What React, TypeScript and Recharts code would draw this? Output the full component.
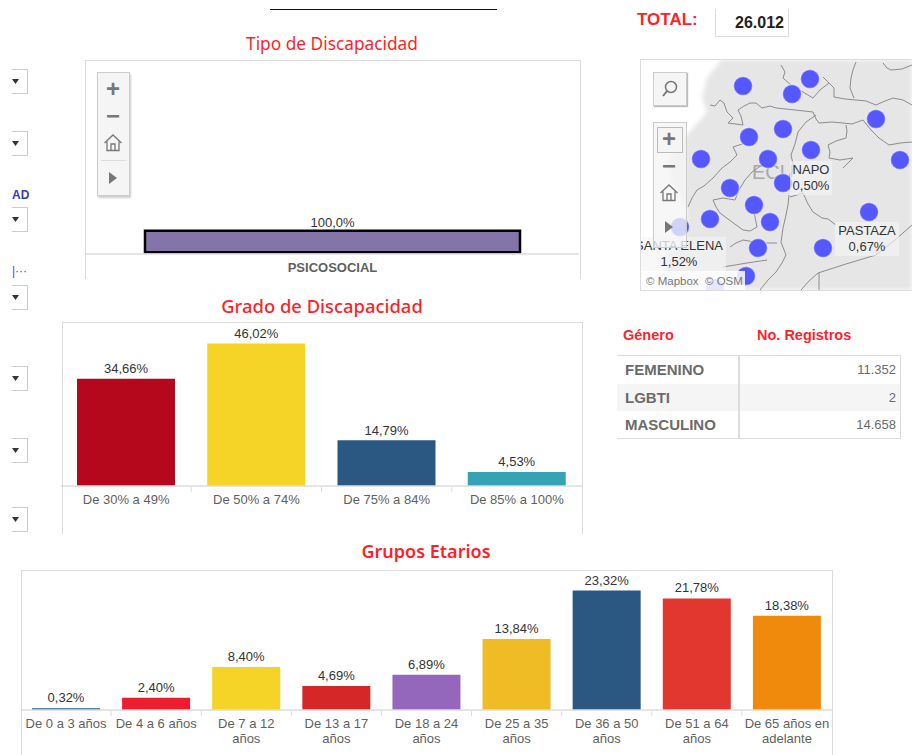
import React from "react";
import {
  Bar,
  BarChart,
  Cell,
  LabelList,
  Scatter,
  ScatterChart,
  XAxis,
  YAxis,
} from "recharts";

const tipoLabels = ["PSICOSOCIAL"];
const tipoValues = [100];
const tipoColors = ["#8474a8"];

const gradoLabels = ["De 30% a 49%", "De 50% a 74%", "De 75% a 84%", "De 85% a 100%"];
const gradoValues = [34.66, 46.02, 14.79, 4.53];
const gradoColors = ["#b5081c", "#f6d327", "#2b5883", "#36a3b5"];

const grupoLabels = [
  "De 0 a 3 años",
  "De 4 a 6 años",
  "De 7 a 12 años",
  "De 13 a 17 años",
  "De 18 a 24 años",
  "De 25 a 35 años",
  "De 36 a 50 años",
  "De 51 a 64 años",
  "De 65 años en adelante",
];
const grupoValues = [0.32, 2.4, 8.4, 4.69, 6.89, 13.84, 23.32, 21.78, 18.38];
const grupoColors = [
  "#2b5f93",
  "#ed1c2e",
  "#f6d327",
  "#d62728",
  "#9467bd",
  "#f0bc26",
  "#2b5883",
  "#e2372f",
  "#f08a0c",
];

const generoLabels = ["FEMENINO", "LGBTI", "MASCULINO"];
const generoValues = ["11.352", "2", "14.658"];

// map dots (page pixels are the map's grid)
const dotX = [743, 810, 792, 876, 783, 749, 811, 701, 768, 900, 783, 730, 754, 869, 710, 770, 680, 758, 823, 746, 715];
const dotY = [86, 79, 94, 119, 129, 137, 150, 159, 159, 160, 183, 188, 205, 212, 219, 222, 227, 248, 248, 276, 288];

const borders: number[][][] = [
  [[710, 105], [715, 106], [720, 100], [724, 103], [727, 112], [733, 118], [728, 123], [743, 125], [741, 116], [738, 110], [744, 106], [750, 103], [756, 103], [762, 108], [770, 106], [776, 108], [795, 110], [813, 112], [816, 119], [819, 123], [832, 122], [843, 123], [852, 124], [863, 120], [871, 130], [879, 138], [889, 145], [900, 143], [912, 142]],
  [[823, 77], [829, 83], [834, 88], [834, 97], [845, 99], [856, 100], [866, 101], [876, 105], [885, 101], [893, 98], [903, 100], [912, 105]],
  [[829, 83], [820, 90], [813, 98], [803, 92], [792, 86], [783, 78], [785, 72], [781, 65]],
  [[856, 62], [853, 70], [851, 78], [850, 88], [854, 98]],
  [[883, 63], [887, 68], [891, 70], [902, 69], [912, 65]],
  [[816, 115], [806, 122], [798, 132], [795, 144], [791, 155], [794, 168], [788, 178], [783, 190]],
  [[846, 125], [847, 131], [846, 138], [836, 141], [828, 145], [830, 152], [829, 158], [840, 160], [853, 158], [848, 163], [843, 168]],
  [[790, 197], [803, 193], [808, 204], [813, 212], [822, 218], [828, 219], [836, 225]],
  [[789, 195], [788, 205], [786, 215], [783, 228], [781, 242], [786, 255], [782, 263], [776, 272], [768, 280], [760, 290]],
  [[801, 290], [809, 281], [818, 273], [846, 264], [876, 255], [895, 240], [912, 225]],
  [[819, 273], [819, 290]],
  [[688, 207], [692, 198], [697, 190], [704, 186], [713, 178], [722, 168], [730, 162], [737, 155], [733, 147], [745, 143]],
  [[713, 200], [716, 207], [720, 213], [732, 222], [743, 230], [750, 231], [757, 227], [755, 217], [753, 207]],
  [[730, 247], [736, 243], [743, 240], [760, 243], [777, 243]],
  [[723, 267], [735, 265], [747, 263], [767, 260]],
  [[762, 165], [752, 172], [745, 180], [739, 190], [735, 200], [723, 198], [713, 200]],
];

const RED = "#ff1f2a";
const FRAME = "#dcdcdc";

type TickOpts = { band: number; baseline: number; size: number; bold?: boolean; dividers: boolean; count: number };

// tick label plus the little divider between categories
function makeTick({ band, baseline, size, bold, dividers, count }: TickOpts) {
  return (props: any) => {
    const { x, payload, index } = props;
    const label: string = payload.value;
    let lines = [label];
    if (label.length > 13 && !bold) {
      const cut = label.lastIndexOf(" ");
      lines = [label.slice(0, cut), label.slice(cut + 1)];
    }
    return (
      <g>
        {dividers && index < count - 1 && (
          <line x1={x + band / 2} x2={x + band / 2} y1={baseline} y2={baseline + 5} stroke={FRAME} />
        )}
        {lines.map((line, i) => (
          <text
            key={line}
            x={x}
            y={baseline + 17 + i * 15}
            textAnchor="middle"
            fontSize={size}
            fontWeight={bold ? 700 : 400}
            fill="#5f5f5f"
            fontFamily="Liberation Sans"
          >
            {line}
          </text>
        ))}
      </g>
    );
  };
}

type BarPanelProps = {
  left: number;
  top: number;
  width: number;
  height: number;
  baseline: number;
  labels: string[];
  values: number[];
  colors: string[];
  barSize: number;
  minY?: number;
  maxY: number;
  decimals: number;
  shift?: number;
  labelOffset: number;
  chartWidth: number;
  outlined?: boolean;
  dividers?: boolean;
  boldTicks?: boolean;
};

function BarPanel(p: BarPanelProps) {
  const data = p.labels.map((label, i) => ({ label, value: p.values[i] }));
  return (
    <div
      style={{
        position: "absolute",
        left: p.left,
        top: p.top,
        width: p.width,
        height: p.height,
        borderTop: `1.5px solid ${FRAME}`,
        borderLeft: `1.5px solid ${FRAME}`,
        borderRight: `1.5px solid ${FRAME}`,
        boxSizing: "border-box",
      }}
    >
      <BarChart
        width={p.chartWidth}
        height={p.height - 1}
        data={data}
        margin={{ top: 0, right: 0, bottom: 0, left: 0 }}
        style={{ position: "relative", left: p.shift ?? 0 }}
      >
        <XAxis
          dataKey="label"
          interval={0}
          height={p.height - p.baseline}
          tickLine={false}
          axisLine={{ stroke: FRAME, strokeWidth: 1.5 }}
          tick={makeTick({
            band: p.chartWidth / p.labels.length,
            baseline: p.baseline,
            size: 13,
            bold: p.boldTicks,
            dividers: !!p.dividers,
            count: p.labels.length,
          })}
        />
        <YAxis hide domain={[p.minY ?? 0, p.maxY]} />
        <Bar
          dataKey="value"
          barSize={p.barSize}
          isAnimationActive={false}
          stroke={p.outlined ? "#000" : undefined}
          strokeWidth={p.outlined ? 2.5 : 0}
        >
          {data.map((d, i) => (
            <Cell key={d.label} fill={p.colors[i]} />
          ))}
          <LabelList
            dataKey="value"
            position="top"
            offset={p.labelOffset}
            fontSize={13}
            fill="#333"
            fontFamily="Liberation Sans"
            formatter={(v: any) => Number(v).toFixed(p.decimals).replace(".", ",") + "%"}
          />
        </Bar>
      </BarChart>
    </div>
  );
}

function Title({ text, center, y, size, weight }: { text: string; center: number; y: number; size: number; weight: number }) {
  return (
    <div
      style={{
        position: "absolute",
        left: center - 200,
        width: 400,
        top: y - 14,
        height: 28,
        lineHeight: "28px",
        textAlign: "center",
        color: RED,
        fontFamily: "Noto Sans",
        fontSize: size,
        fontWeight: weight,
      }}
    >
      {text}
    </div>
  );
}

const dropdownTops = [69, 131, 207, 285, 366, 438, 507];

function Dropdown({ top }: { top: number }) {
  return (
    <div
      style={{
        position: "absolute",
        left: 12,
        top,
        width: 15,
        height: 23,
        borderTop: "1px solid #ccc",
        borderRight: "1.5px solid #ccc",
        borderBottom: "1.5px solid #ccc",
      }}
    >
      <svg width={12} height={22} style={{ position: "absolute", left: 0, top: 0 }}>
        <polygon points="0,9 7,9 3.5,14" fill="#333" />
      </svg>
    </div>
  );
}

function HomeIcon() {
  return (
    <svg width={20} height={20} viewBox="0 0 20 20">
      <path
        d="M1.5 10 L10 2 L18.5 10 M4 8.5 V17.5 H16 V8.5 M8 17.5 V11 H12 V17.5"
        fill="none"
        stroke="#777"
        strokeWidth={1.3}
      />
    </svg>
  );
}

function Glyph({ children, center, y, size = 24 }: { children: React.ReactNode; center: number; y: number; size?: number }) {
  return (
    <div
      style={{
        position: "absolute",
        left: center - 12,
        width: 24,
        top: y - 11,
        height: 22,
        lineHeight: "22px",
        textAlign: "center",
        fontSize: size,
        fontWeight: 700,
        color: "#777",
        display: "flex",
        alignItems: "center",
        justifyContent: "center",
      }}
    >
      {children}
    </div>
  );
}

function Triangle() {
  return (
    <svg width={10} height={14}>
      <polygon points="1,1 9,7 1,13" fill="#777" />
    </svg>
  );
}

function MapLabel({ name, value, center, y }: { name: string; value: string; center: number; y: number }) {
  return (
    <div
      style={{
        position: "absolute",
        left: center - 641 - 60,
        top: y - 60 - 9,
        width: 120,
        textAlign: "center",
        fontSize: 13,
        lineHeight: "16px",
        color: "#333",
      }}
    >
      <span style={{ background: "rgba(245,245,245,0.65)", padding: "1px 3px", display: "inline-block", whiteSpace: "nowrap" }}>
        {name}
        <br />
        {value}
      </span>
    </div>
  );
}

function EcuadorMap() {
  const dots = dotX.map((x, i) => ({ x, y: dotY[i] }));
  return (
    <div
      style={{
        position: "absolute",
        left: 641,
        top: 60,
        width: 271,
        height: 230,
        background: "#fff",
        overflow: "hidden",
        boxSizing: "border-box",
        outline: `1px solid ${FRAME}`,
      }}
    >
      <div style={{ position: "absolute", inset: 0, filter: "blur(2px)" }}>
        <div
          style={{
            position: "absolute",
            inset: 0,
            background: "#e6e6e6",
            clipPath:
              "polygon(84px -5px, 276px -5px, 276px 235px, 19px 235px, 27px 195px, 44px 175px, 46px 148px, 31px 120px, 27px 100px, 46px 75px, 66px 52px, 61px 38px, 66px 18px)",
          }}
        />
      </div>
      <div style={{ position: "absolute", left: 111, top: 101, fontSize: 20, color: "#a8a8a8" }}>ECU</div>
      <ScatterChart
        width={271}
        height={230}
        margin={{ top: 0, right: 0, bottom: 0, left: 0 }}
        style={{ position: "absolute", left: 0, top: 0 }}
      >
        <XAxis type="number" dataKey="x" domain={[641, 912]} hide />
        <YAxis type="number" dataKey="y" domain={[60, 290]} reversed hide />
        {borders.map((line, i) => (
          <Scatter
            key={i}
            data={line.map(([x, y]) => ({ x, y }))}
            line={{ stroke: "#8c8c8c", strokeWidth: 1 }}
            shape={() => <g />}
            isAnimationActive={false}
          />
        ))}
        <Scatter
          data={dots}
          isAnimationActive={false}
          shape={(props: any) => (
            <circle cx={props.cx} cy={props.cy} r={9.5} fill="#5557ff" stroke="rgba(255,255,255,0.45)" strokeWidth={1.5} />
          )}
        />
      </ScatterChart>
      <MapLabel name="NAPO" value="0,50%" center={811} y={170} />
      <MapLabel name="PASTAZA" value="0,67%" center={867} y={231} />
      <MapLabel name="SANTA ELENA" value="1,52%" center={679} y={246} />
      <div
        style={{
          position: "absolute",
          left: 12,
          top: 12,
          width: 32,
          height: 32,
          background: "#f5f5f5",
          border: "1px solid #ccc",
          boxShadow: "1px 1px 1px #bbb",
        }}
      >
        <svg width={32} height={32}>
          <circle cx={17} cy={14} r={5.5} fill="none" stroke="#777" strokeWidth={1.5} />
          <line x1={13} y1={18} x2={9} y2={23} stroke="#777" strokeWidth={2} />
        </svg>
      </div>
      <div
        style={{
          position: "absolute",
          left: 12,
          top: 62,
          width: 32,
          height: 124,
          background: "rgba(245,245,245,0.78)",
          border: "1px solid #ccc",
        }}
      />
      <div
        style={{
          position: "absolute",
          left: 16,
          top: 67,
          width: 24,
          height: 24,
          background: "#f5f5f5",
          border: "1px solid #bbb",
        }}
      />
      <Glyph center={28} y={79}>+</Glyph>
      <Glyph center={28} y={106}>−</Glyph>
      <Glyph center={28} y={133}><HomeIcon /></Glyph>
      <Glyph center={28} y={167}><Triangle /></Glyph>
      <div
        style={{
          position: "absolute",
          left: 3,
          top: 211,
          height: 19,
          lineHeight: "20px",
          padding: "0 2px",
          background: "rgba(255,255,255,0.85)",
          fontSize: 11.5,
          color: "#777",
          whiteSpace: "nowrap",
        }}
      >
        © Mapbox &nbsp;© OSM
      </div>
    </div>
  );
}

function GeneroTable() {
  return (
    <>
      <div style={{ position: "absolute", left: 623, top: 327, fontSize: 14.5, fontWeight: 700, color: RED }}>Género</div>
      <div style={{ position: "absolute", left: 757, top: 327, fontSize: 14.5, fontWeight: 700, color: RED }}>No. Registros</div>
      <div
        style={{
          position: "absolute",
          left: 617,
          top: 355,
          width: 284,
          height: 84,
          borderTop: `1.5px solid ${FRAME}`,
          borderRight: `1.5px solid ${FRAME}`,
          borderBottom: `1.5px solid ${FRAME}`,
          boxSizing: "border-box",
        }}
      >
        {generoLabels.map((label, i) => (
          <div
            key={label}
            style={{
              position: "absolute",
              left: 0,
              right: 0,
              top: i * 27.7,
              height: 27.7,
              lineHeight: "27.7px",
              background: i === 1 ? "#f5f5f5" : "transparent",
            }}
          >
            <span style={{ position: "absolute", left: 8, fontSize: 15, fontWeight: 700, color: "#6b6b6b" }}>{label}</span>
            <span style={{ position: "absolute", right: 4, fontSize: 13, color: "#6b6b6b" }}>{generoValues[i]}</span>
          </div>
        ))}
        <div style={{ position: "absolute", left: 121, top: 0, bottom: 0, width: 1.5, background: FRAME }} />
      </div>
    </>
  );
}

export default function App() {
  return (
    <div
      style={{
        position: "absolute",
        left: 0,
        top: 0,
        width: 912,
        height: 755,
        overflow: "hidden",
        background: "#fff",
        fontFamily: "Liberation Sans",
      }}
    >
      <div style={{ position: "absolute", left: 270, top: 9, width: 227, height: 1, background: "#00008b" }} />

      <div style={{ position: "absolute", left: 637, top: 10, fontSize: 17, fontWeight: 700, color: RED }}>TOTAL:</div>
      <div
        style={{
          position: "absolute",
          left: 715,
          top: 9,
          width: 74,
          height: 28,
          borderLeft: `1px solid ${FRAME}`,
          borderRight: `1px solid ${FRAME}`,
          borderBottom: `1px solid ${FRAME}`,
          boxSizing: "border-box",
          textAlign: "right",
          paddingRight: 4,
          lineHeight: "27px",
          fontSize: 16,
          fontWeight: 700,
          color: "#222",
        }}
      >
        26.012
      </div>

      <Title text="Tipo de Discapacidad" center={332} y={44} size={17.3} weight={400} />
      <Title text="Grado de Discapacidad" center={322} y={306} size={18.4} weight={500} />
      <Title text="Grupos Etarios" center={426} y={551} size={18} weight={600} />

      {dropdownTops.map((t) => (
        <Dropdown key={t} top={t} />
      ))}
      <div style={{ position: "absolute", left: 12, top: 188, fontSize: 12, fontWeight: 700, color: "#3b3bb0" }}>AD</div>
      <div style={{ position: "absolute", left: 12, top: 264, fontSize: 12, color: "#4a4ac0" }}>|···</div>

      <BarPanel
        left={85}
        top={60}
        width={496}
        height={219}
        baseline={194}
        chartWidth={493}
        labels={tipoLabels}
        values={tipoValues}
        colors={tipoColors}
        barSize={375}
        minY={-8.4}
        maxY={893.6}
        decimals={1}
        labelOffset={4}
        outlined
        boldTicks
      />
      <div style={{ position: "absolute", left: 97, top: 72, width: 33, height: 124, background: "#f5f5f5", border: "1px solid #ccc", boxSizing: "border-box", boxShadow: "1px 2px 2px #ccc" }} />
      <Glyph center={113} y={89}>+</Glyph>
      <Glyph center={113} y={116}>−</Glyph>
      <Glyph center={113} y={143}><HomeIcon /></Glyph>
      <div style={{ position: "absolute", left: 101, top: 160, width: 25, height: 1, background: "#ddd" }} />
      <Glyph center={113} y={178}><Triangle /></Glyph>

      <EcuadorMap />
      <GeneroTable />

      <BarPanel
        left={62}
        top={322}
        width={521}
        height={212}
        baseline={164}
        chartWidth={521}
        shift={-2}
        labels={gradoLabels}
        values={gradoValues}
        colors={gradoColors}
        barSize={98}
        maxY={52.64}
        decimals={2}
        labelOffset={5.5}
        dividers
      />
      <BarPanel
        left={21}
        top={570}
        width={812}
        height={186}
        baseline={140}
        chartWidth={811}
        shift={-1.5}
        labels={grupoLabels}
        values={grupoValues}
        colors={grupoColors}
        barSize={68}
        maxY={27.13}
        decimals={2}
        labelOffset={6}
        dividers
      />
    </div>
  );
}
